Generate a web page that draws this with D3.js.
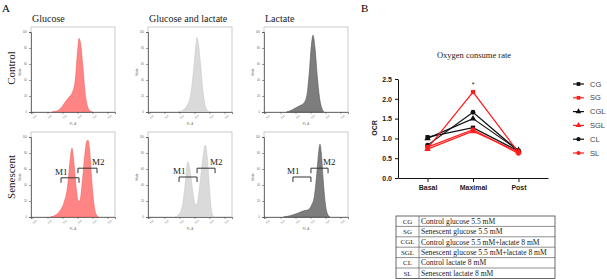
<!DOCTYPE html>
<html>
<head>
<meta charset="utf-8">
<script src="https://cdn.jsdelivr.net/npm/d3@7"></script>
<style>
  body { margin: 0; background: #fff; }
  svg { display: block; }
</style>
</head>
<body>
<div id="chart"></div>
<script>
// ---------- data: panel A histograms (log decade, % of mode) ----------
const histCols = ["Glucose", "Glucose and lactate", "Lactate"];
const histRows = ["Control", "Senescent"];
const decadeTicks = [0, 1, 2, 3, 4, 5];
const modeTicks = [0, 20, 40, 60, 80, 100];

const ctrlGlucose = [[1.3,0],[1.6,1],[1.9,5],[2.2,13],[2.45,19],[2.65,24],[2.85,40],[3.0,75],[3.1,92],[3.2,86],[3.35,58],[3.5,25],[3.65,8],[3.85,1],[4.0,0]];
const ctrlGlucLact = [[1.9,0],[2.2,2],[2.5,8],[2.75,22],[2.95,55],[3.1,85],[3.17,93],[3.25,87],[3.4,60],[3.55,28],[3.7,9],[3.85,2],[4.0,0]];
const ctrlLactate = [[1.4,0],[1.7,2],[2.0,5],[2.3,8],[2.55,11],[2.75,20],[2.9,45],[3.05,82],[3.17,96],[3.3,80],[3.45,45],[3.6,18],[3.75,5],[3.9,0]];
const senGlucose = [[1.2,0],[1.5,2],[1.8,7],[2.1,18],[2.35,40],[2.5,70],[2.63,86],[2.75,70],[2.9,38],[3.05,20],[3.15,20],[3.3,40],[3.5,80],[3.62,95],[3.7,96],[3.8,85],[3.95,45],[4.1,15],[4.25,3],[4.4,0]];
const senGlucLact = [[1.7,0],[1.95,3],[2.2,15],[2.4,45],[2.55,69],[2.7,58],[2.9,30],[3.05,16],[3.15,16],[3.35,40],[3.55,72],[3.72,90],[3.85,75],[4.0,35],[4.15,6],[4.3,0]];
const senLactate = [[1.2,0],[1.5,1],[1.9,3],[2.3,6],[2.6,8],[2.85,9],[3.05,14],[3.25,25],[3.4,50],[3.55,82],[3.63,91],[3.72,80],[3.85,45],[4.0,15],[4.15,3],[4.3,0]];

// M1 / M2 gates for senescent panels: [from, to, level]
const gatesM1 = [[1.9,3.1,49],[1.97,3.17,50],[1.83,3.03,50]];
const gatesM2 = [[3.03,4.3,61],[3.17,4.37,61],[3.03,4.17,61]];

// ---------- data: panel B oxygen consume rate ----------
const phases = ["Basal", "Maximal", "Post"];
const groups = ["CG", "SG", "CGL", "SGL", "CL", "SL"];
const groupNames = ["Control glucose 5.5 mM", "Senescent glucose 5.5 mM", "Control glucose 5.5 mM+lactate 8 mM",
  "Senescent glucose 5.5 mM+lactate 8 mM", "Control lactate 8 mM", "Senescent lactate 8 mM"];
const ocrCG  = [1.03, 1.27, 0.68];
const ocrSG  = [0.75, 2.17, 0.65];
const ocrCGL = [1.00, 1.50, 0.70];
const ocrSGL = [0.73, 1.18, 0.66];
const ocrCL  = [0.83, 1.66, 0.68];
const ocrSL  = [0.78, 1.22, 0.62];
const ocrTicks = [0, 0.5, 1.0, 1.5, 2.0, 2.5];

const W = 607, H = 279;
const serif = "'Liberation Serif', 'DejaVu Serif', serif";
const sans = "'Liberation Sans', Arial, sans-serif";
const red = "#ff1e1e";

const svg = d3.select("#chart").append("svg").attr("width", W).attr("height", H);

// panel letters
svg.append("text").attr("x", 2).attr("y", 12).text("A").attr("font-family", serif).attr("font-size", 11);
svg.append("text").attr("x", 361).attr("y", 12).text("B").attr("font-family", serif).attr("font-size", 11);

// ---------- panel A ----------
const histData = [[ctrlGlucose, ctrlGlucLact, ctrlLactate], [senGlucose, senGlucLact, senLactate]];
const histFill = ["#ff8585", "#dadada", "#7d7d7d"];
const histStroke = ["#f06060", "#c9c9c9", "#555555"];
const panelLeft = [31, 148, 264];
const panelBase = [112, 217];
const pw = 84, ph = 80;

histCols.forEach((t, c) => {
  svg.append("text").attr("x", panelLeft[c] + 1).attr("y", 22).text(t)
    .attr("font-family", serif).attr("font-size", 10).attr("fill", "#222");
});

// row labels
const rowCy = [68, 177];
histRows.forEach((t, r) => {
  svg.append("text").attr("transform", `translate(15,${rowCy[r]}) rotate(-90)`)
    .attr("text-anchor", "middle").text(t)
    .attr("font-family", serif).attr("font-size", 11).attr("fill", "#222");
});

histRows.forEach((rowName, r) => {
  histCols.forEach((colName, c) => {
    const x0 = panelLeft[c], base = panelBase[r];
    const xs = d3.scaleLinear().domain([-0.1, 5.5]).range([x0, x0 + pw]);
    const ys = d3.scaleLinear().domain([0, 100]).range([base, base - ph]);
    const g = svg.append("g");

    // light frame
    g.append("rect").attr("x", x0).attr("y", base - ph - 5).attr("width", pw).attr("height", ph + 5)
      .attr("fill", "none").attr("stroke", "#b5b5b5").attr("stroke-width", 0.7);

    // histogram
    const area = d3.area().x(d => xs(d[0])).y0(base).y1(d => ys(d[1])).curve(d3.curveMonotoneX);
    g.append("path").datum(histData[r][c]).attr("d", area)
      .attr("fill", histFill[c]).attr("stroke", histStroke[c]).attr("stroke-width", 0.6);

    // axes
    const yAx = g.append("g").attr("transform", `translate(${x0},0)`)
      .call(d3.axisLeft(ys).tickValues(modeTicks).tickSize(2).tickPadding(2));
    const xAx = g.append("g").attr("transform", `translate(0,${base})`)
      .call(d3.axisBottom(xs).tickValues(decadeTicks).tickSize(2).tickPadding(2).tickFormat(d => "10" + d));
    [yAx, xAx].forEach(a => {
      a.selectAll("path").attr("stroke", "#444").attr("stroke-width", 0.7);
      a.selectAll("line").attr("stroke", "#444").attr("stroke-width", 0.5);
      a.selectAll("text").attr("font-size", 2.6).attr("fill", "#666").attr("font-family", sans);
    });
    xAx.selectAll("text").attr("transform", "rotate(-45)").attr("text-anchor", "end").attr("dy", "0.6em");

    g.append("text").attr("x", x0 + pw / 2).attr("y", base + 13).attr("text-anchor", "middle")
      .text("FL-A").attr("font-size", 3).attr("fill", "#777").attr("font-family", sans);
    g.append("text").attr("transform", `translate(${x0 - 10},${base - ph / 2}) rotate(-90)`)
      .attr("text-anchor", "middle").text("Mode").attr("font-size", 3).attr("fill", "#777").attr("font-family", sans);

    // gates on senescent row
    if (r === 1) {
      [[gatesM1[c], "M1", "start"], [gatesM2[c], "M2", "end"]].forEach(([gt, lab, side]) => {
        const gy = ys(gt[2]);
        g.append("path")
          .attr("d", `M${xs(gt[0])},${gy + 5}V${gy}H${xs(gt[1])}V${gy + 5}`)
          .attr("fill", "none").attr("stroke", "#333").attr("stroke-width", 1);
        const tx = side === "start" ? xs(gt[0]) - 6 : xs(gt[1]) - 5;
        g.append("text").attr("x", tx).attr("y", gy - 3).text(lab)
          .attr("font-family", serif).attr("font-size", 9).attr("fill", "#222");
      });
    }
  });
});

// ---------- panel B ----------
const ocrSeries = [ocrCG, ocrSG, ocrCGL, ocrSGL, ocrCL, ocrSL];
const seriesColor = ["#111", red, "#111", red, "#111", red];
const seriesShape = [d3.symbolSquare, d3.symbolSquare, d3.symbolTriangle, d3.symbolTriangle, d3.symbolCircle, d3.symbolCircle];

const xP = d3.scalePoint().domain(phases).range([398, 548]).padding(0.65);
const yO = d3.scaleLinear().domain([0, 2.5]).range([178, 79]);

svg.append("text").attr("x", 474).attr("y", 58).attr("text-anchor", "middle").text("Oxygen consume rate")
  .attr("font-family", serif).attr("font-size", 8.5).attr("fill", "#222");

const gy = svg.append("g").attr("transform", "translate(398,0)")
  .call(d3.axisLeft(yO).tickValues(ocrTicks).tickFormat(d3.format(".1f")).tickSize(3).tickSizeOuter(0));
const gx = svg.append("g").attr("transform", "translate(0,178)")
  .call(d3.axisBottom(xP).tickSize(4).tickSizeOuter(0).tickPadding(3));
[gy, gx].forEach(a => {
  a.selectAll("path").attr("stroke", "#111").attr("stroke-width", 1);
  a.selectAll("line").attr("stroke", "#111").attr("stroke-width", 1);
  a.selectAll("text").attr("font-family", sans).attr("font-weight", "bold").attr("font-size", 7).attr("fill", "#222");
});

svg.append("text").attr("transform", "translate(377,128) rotate(-90)").attr("text-anchor", "middle")
  .text("OCR").attr("font-family", sans).attr("font-weight", "bold").attr("font-size", 7).attr("fill", "#222");

// lines: black first, red on top
const line = d3.line().x((d, i) => xP(phases[i])).y(d => yO(d));
[0, 2, 4, 1, 3, 5].forEach(k => {
  svg.append("path").datum(ocrSeries[k]).attr("d", line)
    .attr("fill", "none").attr("stroke", seriesColor[k]).attr("stroke-width", 1.2);
  svg.selectAll(null).data(ocrSeries[k]).enter().append("path")
    .attr("transform", (d, i) => `translate(${xP(phases[i])},${yO(d)})`)
    .attr("d", d3.symbol().type(seriesShape[k]).size(18))
    .attr("fill", seriesColor[k]);
});

// significance star over SG maximal
svg.append("text").attr("x", xP("Maximal")).attr("y", yO(ocrSG[1]) - 5).attr("text-anchor", "middle")
  .text("*").attr("font-family", sans).attr("font-size", 7).attr("fill", "#222");

// legend
const legY = d3.scalePoint().domain(groups).range([84, 153]);
groups.forEach((gname, k) => {
  const ly = legY(gname);
  svg.append("line").attr("x1", 573).attr("x2", 584).attr("y1", ly).attr("y2", ly)
    .attr("stroke", seriesColor[k]).attr("stroke-width", 1.2);
  svg.append("path").attr("transform", `translate(578.5,${ly})`)
    .attr("d", d3.symbol().type(seriesShape[k]).size(14)).attr("fill", seriesColor[k]);
  svg.append("text").attr("x", 590).attr("y", ly).attr("dy", "0.35em").text(gname)
    .attr("font-family", sans).attr("font-size", 7.5).attr("fill", "#444");
});

// abbreviation table
const tabX = 396, tabW = 159, colW = 23, rowH = 10.4, tabY = 216;
const tab = svg.append("g");
tab.append("rect").attr("x", tabX).attr("y", tabY).attr("width", tabW).attr("height", rowH * groups.length)
  .attr("fill", "none").attr("stroke", "#444").attr("stroke-width", 0.8);
tab.append("line").attr("x1", tabX + colW).attr("x2", tabX + colW).attr("y1", tabY).attr("y2", tabY + rowH * groups.length)
  .attr("stroke", "#444").attr("stroke-width", 0.6);
groups.forEach((gname, k) => {
  const ry = tabY + k * rowH;
  if (k > 0) tab.append("line").attr("x1", tabX).attr("x2", tabX + tabW).attr("y1", ry).attr("y2", ry)
    .attr("stroke", "#444").attr("stroke-width", 0.6);
  tab.append("text").attr("x", tabX + colW / 2).attr("y", ry + rowH / 2).attr("dy", "0.35em")
    .attr("text-anchor", "middle").text(gname).attr("font-family", serif).attr("font-size", 7).attr("fill", "#222");
  tab.append("text").attr("x", tabX + colW + 2).attr("y", ry + rowH / 2).attr("dy", "0.35em")
    .text(groupNames[k]).attr("font-family", serif).attr("font-size", 7.6).attr("fill", "#222");
});
</script>
</body>
</html>
